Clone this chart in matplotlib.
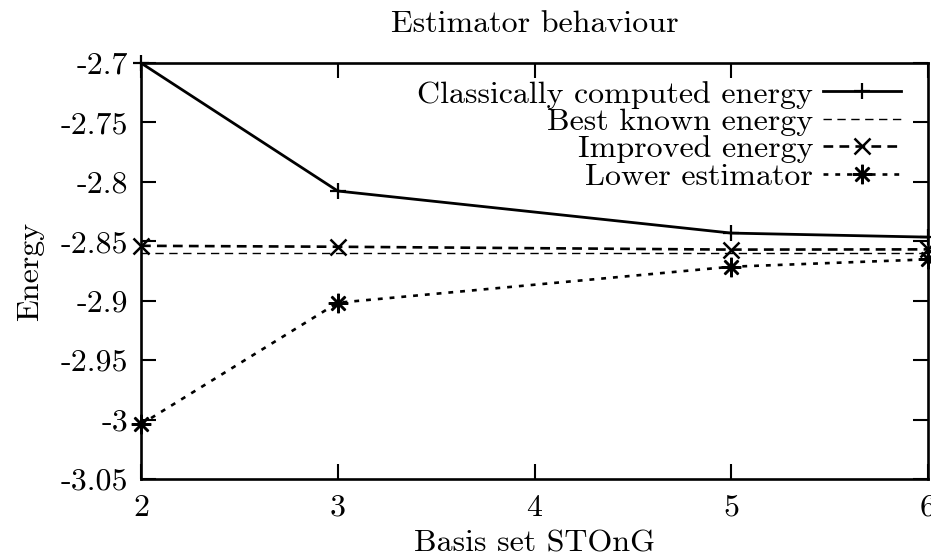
import numpy as np
import matplotlib
matplotlib.use("Agg")
import matplotlib.pyplot as plt

# values
basis_n = [2, 3, 5, 6]
classical = [-2.7000, -2.8077, -2.8431, -2.8465]
best_known = [-2.8595, -2.8595, -2.8595, -2.8595]
improved = [-2.8538, -2.8546, -2.8570, -2.8568]
lower_est = [-3.0040, -2.9017, -2.8714, -2.8652]

x_ticks = [2, 3, 4, 5, 6]
y_ticks = [-2.7, -2.75, -2.8, -2.85, -2.9, -2.95, -3.0, -3.05]
y_ticklabels = ['-2.7', '-2.75', '-2.8', '-2.85', '-2.9', '-2.95', '-3', '-3.05']

plt.rcParams['font.family'] = ['cmr10', 'DejaVu Serif']
plt.rcParams['axes.unicode_minus'] = False
plt.rcParams['lines.scale_dashes'] = False
fs = 23

fig = plt.figure(figsize=(9.31, 5.59), dpi=100)
ax = fig.add_axes([141 / 931, 1 - 479 / 559, 787 / 931, 416 / 559])

asterisk = (8, 2, 0)
ax.plot(basis_n, classical, color='black', lw=2.0, marker='+', ms=12, mew=1.6,
        clip_on=False, label='Classically computed energy')
ax.plot(basis_n, best_known, color='black', lw=1.0, dashes=(6, 4),
        clip_on=False, label='Best known energy')
ax.plot(basis_n, improved, color='black', lw=1.9, dashes=(7, 4.5), marker='x', ms=12, mew=1.8,
        clip_on=False, label='Improved energy')
ax.plot(basis_n, lower_est, color='black', lw=1.9, dashes=(3.5, 5), marker=asterisk, ms=14, mew=1.8,
        clip_on=False, label='Lower estimator')

ax.set_xlim(2, 6)
ax.set_ylim(-3.05, -2.7)
ax.set_xticks(x_ticks)
ax.set_xticklabels([str(v) for v in x_ticks])
ax.set_yticks(y_ticks)
ax.set_yticklabels(y_ticklabels)
ax.tick_params(direction='in', length=11, width=1.5, top=True, right=True, labelsize=fs)
ax.tick_params(axis='y', pad=9)
ax.tick_params(axis='x', pad=11)
for s in ax.spines.values():
    s.set_linewidth(1.9)

ax.set_title('Estimator behaviour', fontsize=fs, pad=22)
ax.set_xlabel('Basis set STOnG', fontsize=fs, labelpad=6)
ax.set_ylabel('Energy', fontsize=fs, labelpad=12)

leg = ax.legend(loc='upper right', bbox_to_anchor=(1, 1 + 10 / 416), frameon=False,
                markerfirst=False, fontsize=fs, handlelength=2.45, handletextpad=0.3,
                labelspacing=-0.03, borderaxespad=0.75, numpoints=1, borderpad=0.1)
# right-align the labels like gnuplot's key
leg._legend_box._children[-1]._children[0].align = 'right'

fig.savefig('out.png', dpi=100)
